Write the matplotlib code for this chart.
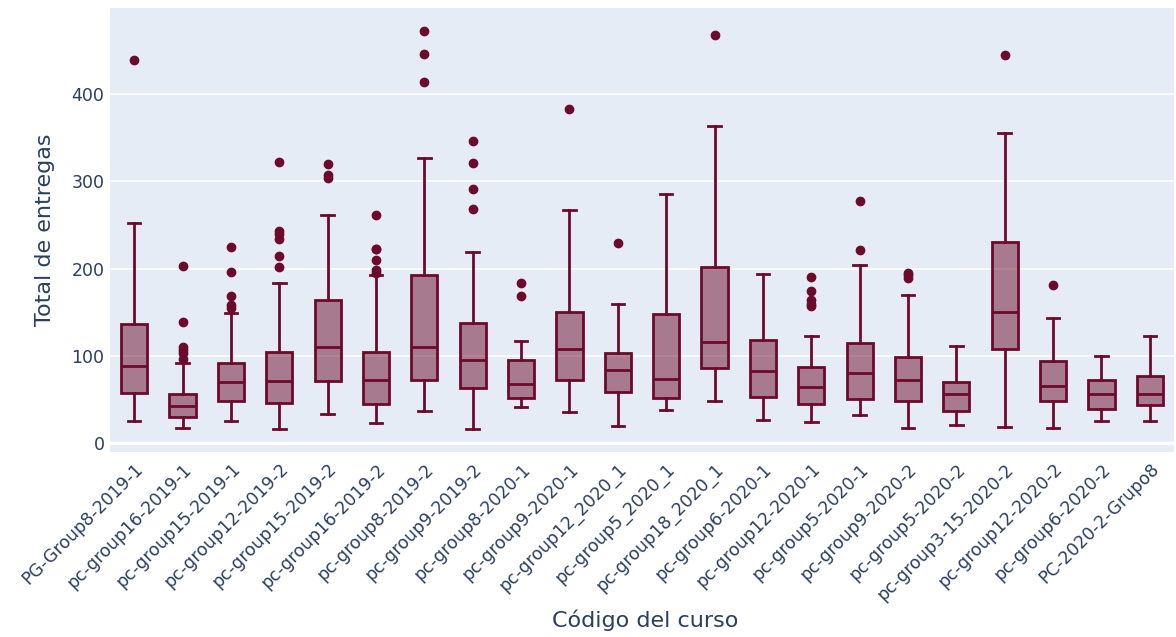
import matplotlib.pyplot as plt

# Course codes (x categories)
cursos = ["PG-Group8-2019-1", "pc-group16-2019-1", "pc-group15-2019-1", "pc-group12-2019-2",
          "pc-group15-2019-2", "pc-group16-2019-2", "pc-group8-2019-2", "pc-group9-2019-2",
          "pc-group8-2020-1", "pc-group9-2020-1", "pc-group12_2020_1", "pc-group5_2020_1",
          "pc-group18_2020_1", "pc-group6-2020-1", "pc-group12-2020-1", "pc-group5-2020-1",
          "pc-group9-2020-2", "pc-group5-2020-2", "pc-group3-15-2020-2", "pc-group12-2020-2",
          "pc-group6-2020-2", "PC-2020-2-Grupo8"]

# Box statistics
bigote_inf = [25, 18, 26, 16, 34, 23, 37, 16, 42, 36, 20, 38, 49, 27, 24, 33, 17, 21, 19, 17, 25, 25]
q1 = [58, 30.5, 48.5, 46.5, 71, 45, 72.5, 63, 51.5, 73, 58.5, 52, 86.5, 53, 45.5, 51, 49, 37, 108, 48.5, 39, 44]
mediana = [89, 42.5, 70.5, 71.5, 110.5, 72.5, 110.5, 95, 68.5, 108, 83.5, 74, 116, 83, 65, 80, 72.5, 56, 150, 65.5, 57, 57]
q3 = [136.5, 56.5, 91.5, 105, 164, 105, 192.5, 138, 95, 150.5, 103.5, 148.5, 201.5, 118, 87, 115, 98.5, 70.5, 230.5, 94, 73, 77]
bigote_sup = [252, 92, 149.5, 184, 262, 192.5, 327, 219, 117, 267, 160, 285, 363, 194, 123, 204, 170, 112, 355, 143, 100, 123]
atipicos = [
    [439],
    [203, 139, 110.5, 107, 103, 97],
    [225, 196, 169, 158, 155.5],
    [322, 243, 240, 233.5, 214, 202.5],
    [319.5, 307, 304],
    [261.5, 223, 222, 210, 198, 195],
    [472.5, 445.5, 414],
    [346.5, 320.5, 291.5, 268.5],
    [184, 169],
    [382.5],
    [229],
    [],
    [468],
    [],
    [191, 175, 164, 160, 157],
    [277, 221.5],
    [195, 192.5, 189],
    [],
    [445],
    [181],
    [],
    [],
]

color = "#6d0a2b"
texto = "#2a3f5f"
plt.rcParams['font.family'] = ['DejaVu Sans']

stats = []
for i in range(len(cursos)):
    stats.append({
        "label": cursos[i],
        "whislo": bigote_inf[i],
        "q1": q1[i],
        "med": mediana[i],
        "q3": q3[i],
        "whishi": bigote_sup[i],
        "fliers": atipicos[i],
    })

fig = plt.figure(figsize=(11.76, 6.37), dpi=100)
ax = fig.add_axes([110 / 1176, 1 - 451.7 / 637, 1064 / 1176, 443.7 / 637])
ax.set_facecolor("#E5ECF6")

ax.bxp(stats, positions=range(len(cursos)), widths=0.54, capwidths=0.26,
       patch_artist=True, zorder=3,
       boxprops=dict(facecolor=(0.427, 0.039, 0.169, 0.5), edgecolor=color, linewidth=2),
       medianprops=dict(color=color, linewidth=2),
       whiskerprops=dict(color=color, linewidth=2),
       capprops=dict(color=color, linewidth=2),
       flierprops=dict(marker="o", markersize=6, markerfacecolor=color,
                       markeredgecolor=color, linestyle="none"))

ax.set_xlim(-0.5, len(cursos) - 0.5)
ax.set_ylim(-9.6, 498.6)
ax.set_yticks([0, 100, 200, 300, 400])
ax.grid(axis="y", color="white", linewidth=1.2, zorder=0)
ax.axhline(0, color="white", linewidth=2.5, zorder=1)
ax.set_axisbelow(True)
for s in ax.spines.values():
    s.set_visible(False)

ax.tick_params(axis="both", length=0, labelsize=12.5, labelcolor=texto)
ax.tick_params(axis="y", pad=4)
ax.tick_params(axis="x", pad=6)
ax.set_xticks(range(len(cursos)))
ax.set_xticklabels(cursos, rotation=45, ha="right", rotation_mode="anchor")

fig.text(45 / 1176, 1 - 230 / 637, "Total de entregas", rotation=90, ha="center", va="center",
         fontsize=16, color=texto)
fig.text(645 / 1176, 1 - 620 / 637, "Código del curso", ha="center", va="center",
         fontsize=16, color=texto)

fig.savefig("out.png", dpi=100)
